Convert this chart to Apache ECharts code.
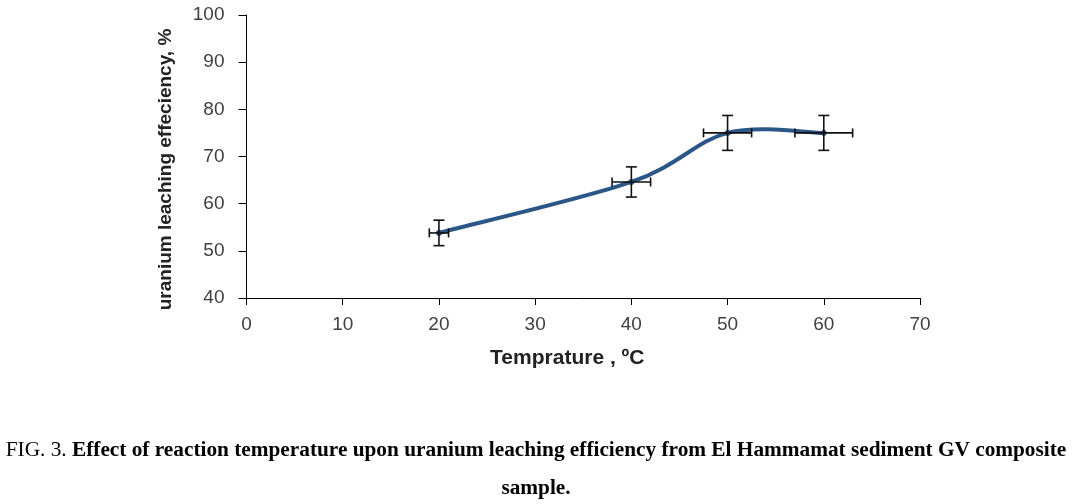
<!DOCTYPE html>
<html>
<head>
<meta charset="utf-8">
<script src="https://cdn.jsdelivr.net/npm/echarts@6/dist/echarts.min.js"></script>
<style>
html,body{margin:0;padding:0;background:#fff;}
#chart{width:1072px;height:504px;}
</style>
</head>
<body>
<div id="chart"></div>
<script>
// Data
var temperatures = [20, 40, 50, 60];
var efficiency = [53.8, 64.6, 75.0, 75.0];
var xErrors = [1.0, 2.0, 2.5, 3.0];
var yErrors = [2.7, 3.2, 3.7, 3.7];
var xTicks = [0, 10, 20, 30, 40, 50, 60, 70];
var yTicks = [40, 50, 60, 70, 80, 90, 100];

var chart = echarts.init(document.getElementById('chart'), null, {renderer: 'canvas'});

var pointData = temperatures.map(function (t, i) { return [t, efficiency[i]]; });
var errData = temperatures.map(function (t, i) { return [t, efficiency[i], xErrors[i], yErrors[i]]; });

// Smooth curve (Catmull-Rom style, like a spreadsheet smoothed line), drawn in pixel space via api.coord
function renderCurve(params, api) {
  var i = params.dataIndex;
  var n = pointData.length;
  if (i >= n - 1) return null;
  var p0 = api.coord(pointData[Math.max(i - 1, 0)]);
  var p1 = api.coord(pointData[i]);
  var p2 = api.coord(pointData[i + 1]);
  var p3 = api.coord(pointData[Math.min(i + 2, n - 1)]);
  var k = 1 / 6;
  return {
    type: 'bezierCurve',
    shape: {
      x1: p1[0], y1: p1[1],
      x2: p2[0], y2: p2[1],
      cpx1: p1[0] + (p2[0] - p0[0]) * k, cpy1: p1[1] + (p2[1] - p0[1]) * k,
      cpx2: p2[0] - (p3[0] - p1[0]) * k, cpy2: p2[1] - (p3[1] - p1[1]) * k
    },
    style: {stroke: '#2b5688', lineWidth: 4, fill: null, lineCap: 'round'}
  };
}

function renderErr(params, api) {
  var x = api.value(0), y = api.value(1), dx = api.value(2), dy = api.value(3);
  var top = api.coord([x, y + dy]);
  var bot = api.coord([x, y - dy]);
  var left = api.coord([x - dx, y]);
  var right = api.coord([x + dx, y]);
  var cw = 5.5, ch = 4.5;
  var st = {stroke: '#111', lineWidth: 1.6};
  return {
    type: 'group',
    children: [
      {type: 'line', shape: {x1: top[0], y1: top[1], x2: bot[0], y2: bot[1]}, style: st},
      {type: 'line', shape: {x1: top[0] - cw, y1: top[1], x2: top[0] + cw, y2: top[1]}, style: st},
      {type: 'line', shape: {x1: bot[0] - cw, y1: bot[1], x2: bot[0] + cw, y2: bot[1]}, style: st},
      {type: 'line', shape: {x1: left[0], y1: left[1], x2: right[0], y2: right[1]}, style: st},
      {type: 'line', shape: {x1: left[0], y1: left[1] - ch, x2: left[0], y2: left[1] + ch}, style: st},
      {type: 'line', shape: {x1: right[0], y1: right[1] - ch, x2: right[0], y2: right[1] + ch}, style: st}
    ]
  };
}

var sans = 'Liberation Sans, Arial, sans-serif';
var serif = 'Liberation Serif, Times New Roman, serif';
var labelStyle = {color: '#404040', fontSize: 19, fontFamily: sans};

chart.setOption({
  animation: false,
  backgroundColor: '#fff',
  title: [
    {
      text: '{n|FIG. 3. }{b|Effect of reaction temperature upon uranium leaching efficiency from El Hammamat sediment GV composite}',
      left: 'center',
      top: 440,
      padding: 0,
      textStyle: {
        fontWeight: 'normal',
        rich: {
          n: {fontFamily: serif, fontSize: 21.3, fontWeight: 'normal', color: '#000'},
          b: {fontFamily: serif, fontSize: 21.3, fontWeight: 'bold', color: '#000'}
        }
      }
    },
    {
      text: 'sample.',
      left: 'center',
      top: 478,
      padding: 0,
      textStyle: {fontFamily: serif, fontSize: 21.3, fontWeight: 'bold', color: '#000'}
    }
  ],
  grid: {left: 246.5, right: 152, top: 15, bottom: 206, containLabel: false},
  xAxis: {
    type: 'value',
    min: xTicks[0], max: xTicks[xTicks.length - 1], interval: 10,
    name: 'Temprature , ºC',
    nameLocation: 'middle',
    nameGap: 50,
    nameTextStyle: {fontSize: 21, fontWeight: 'bold', color: '#222', fontFamily: sans, padding: [0, 32, 0, 0]},
    axisLine: {onZero: false, lineStyle: {color: '#000', width: 1}},
    axisTick: {show: true, length: 7, inside: false, lineStyle: {color: '#000'}},
    axisLabel: Object.assign({margin: 17}, labelStyle),
    splitLine: {show: false}
  },
  yAxis: {
    type: 'value',
    min: yTicks[0], max: yTicks[yTicks.length - 1], interval: 10,
    name: 'uranium leaching effeciency, %',
    nameLocation: 'middle',
    nameGap: 71,
    nameTextStyle: {fontSize: 19, fontWeight: 'bold', color: '#222', fontFamily: sans, padding: [0, 26, 0, 0]},
    axisLine: {show: true, lineStyle: {color: '#000', width: 1}},
    axisTick: {show: true, length: 8, lineStyle: {color: '#000'}},
    axisLabel: Object.assign({margin: 22}, labelStyle),
    splitLine: {show: false}
  },
  series: [
    {
      type: 'custom',
      data: pointData,
      renderItem: renderCurve,
      encode: {x: 0, y: 1},
      clip: true,
      z: 2
    },
    {
      type: 'scatter',
      data: pointData,
      symbol: 'circle',
      symbolSize: 5,
      itemStyle: {color: '#3b6ea5', borderColor: '#1f3f66', borderWidth: 1, opacity: 1},
      z: 3
    },
    {
      type: 'custom',
      data: errData,
      renderItem: renderErr,
      encode: {x: 0, y: 1},
      z: 4
    }
  ]
});
</script>
</body>
</html>
